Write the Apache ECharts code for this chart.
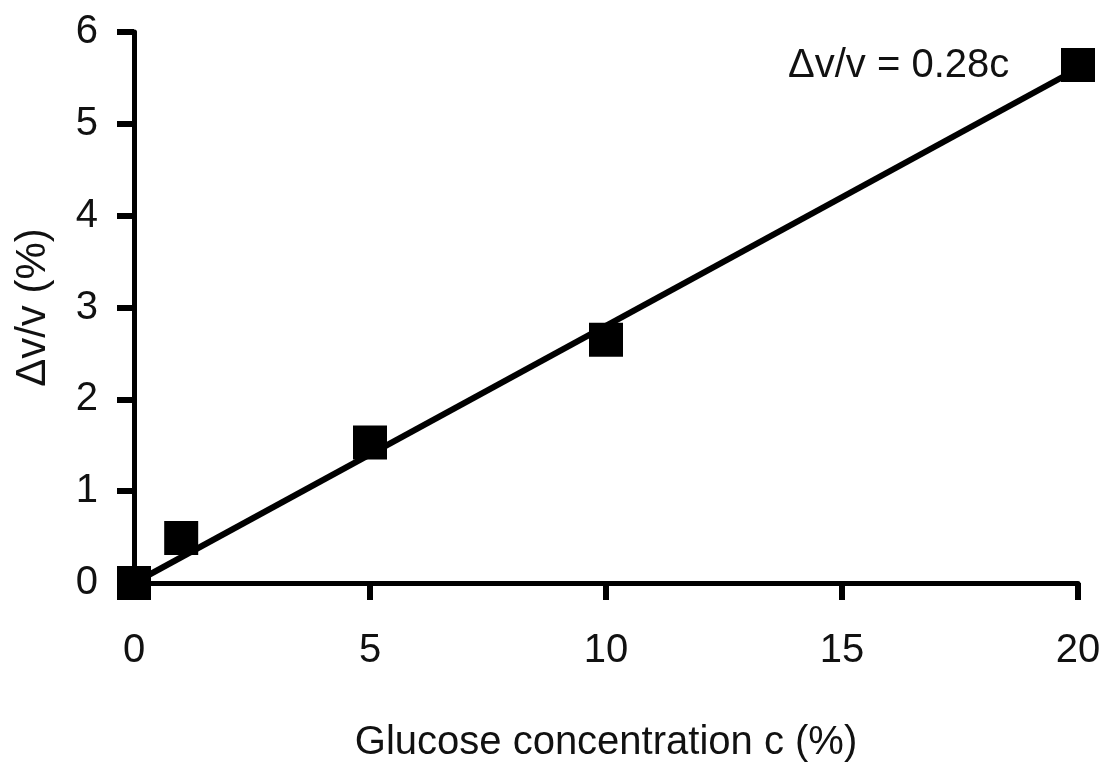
<!DOCTYPE html>
<html>
<head>
<meta charset="utf-8">
<script src="https://cdn.jsdelivr.net/npm/echarts@6/dist/echarts.min.js"></script>
<style>
  html, body { margin: 0; padding: 0; background: #fff; }
  #chart { width: 1104px; height: 763px; }
</style>
</head>
<body>
<div id="chart"></div>
<script>
// Measured relative velocity change vs. glucose concentration
const concentration = [0, 1, 5, 10, 20];          // c (%)
const velocityChange = [0, 0.49, 1.53, 2.65, 5.64]; // Δv/v (%)

// Linear fit Δv/v = 0.28c
const fitSlope = 0.28;
const fitRange = [0, 20];

const xTicks = { min: 0, max: 20, interval: 5 };
const yTicks = { min: 0, max: 6, interval: 1 };

const FONT = '"Liberation Sans Narrow", "Liberation Sans", Arial, sans-serif';

const chart = echarts.init(document.getElementById('chart'), null, { renderer: 'canvas' });

const axisCommon = {
  axisLine: { show: true, lineStyle: { color: '#000', width: 5 } },
  axisTick: { show: true, inside: false, length: 17, lineStyle: { color: '#000', width: 6 } },
  splitLine: { show: false },
  axisLabel: { color: '#111', fontFamily: FONT, fontSize: 40 },
  nameTextStyle: { color: '#111', fontFamily: FONT, fontSize: 40 }
};

chart.setOption({
  backgroundColor: '#fff',
  animation: false,
  grid: { left: 134, right: 26, top: 32, bottom: 180, containLabel: false, outerBoundsMode: 'none' },
  xAxis: Object.assign({}, axisCommon, {
    type: 'value',
    min: xTicks.min, max: xTicks.max, interval: xTicks.interval,
    name: 'Glucose concentration c (%)',
    nameLocation: 'middle',
    nameGap: 140,
    axisLabel: Object.assign({}, axisCommon.axisLabel, { margin: 48 })
  }),
  yAxis: Object.assign({}, axisCommon, {
    type: 'value',
    min: yTicks.min, max: yTicks.max, interval: yTicks.interval,
    name: 'Δv/v (%)',
    nameLocation: 'middle',
    nameGap: 80,
    nameRotate: 90,
    nameTextStyle: Object.assign({}, axisCommon.nameTextStyle, { fontSize: 42 }),
    axisLabel: Object.assign({}, axisCommon.axisLabel, { margin: 36 })
  }),
  graphic: [{
    type: 'text',
    left: 788,
    top: 46,
    style: { text: 'Δv/v = 0.28c', fill: '#111', font: '40px ' + FONT }
  }],
  series: [
    {
      type: 'line',
      data: fitRange.map(c => [c, fitSlope * c]),
      symbol: 'none',
      lineStyle: { color: '#000', width: 6 },
      z: 2
    },
    {
      type: 'scatter',
      data: concentration.map((c, i) => [c, velocityChange[i]]),
      symbol: 'rect',
      symbolSize: 34,
      itemStyle: { color: '#000', opacity: 1 },
      z: 3
    }
  ]
});
</script>
</body>
</html>
